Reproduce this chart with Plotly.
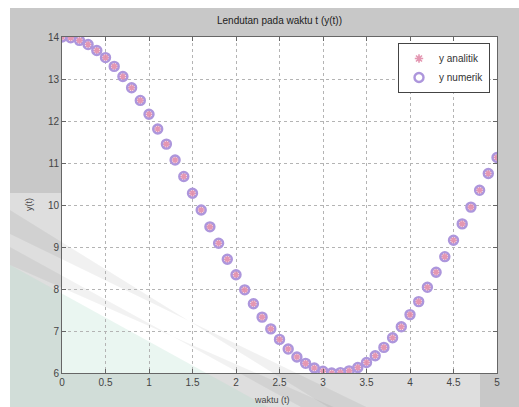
import plotly.graph_objects as go

# Time samples and deflection values y(t)
t = [0.0, 0.1, 0.2, 0.3, 0.4, 0.5, 0.6, 0.7, 0.8, 0.9,
     1.0, 1.1, 1.2, 1.3, 1.4, 1.5, 1.6, 1.7, 1.8, 1.9,
     2.0, 2.1, 2.2, 2.3, 2.4, 2.5, 2.6, 2.7, 2.8, 2.9,
     3.0, 3.1, 3.2, 3.3, 3.4, 3.5, 3.6, 3.7, 3.8, 3.9,
     4.0, 4.1, 4.2, 4.3, 4.4, 4.5, 4.6, 4.7, 4.8, 4.9, 5.0]

y_analitik = [14.00, 13.98, 13.92, 13.82, 13.68, 13.51, 13.30, 13.06, 12.79, 12.49,
              12.16, 11.81, 11.45, 11.07, 10.68, 10.28, 9.88, 9.48, 9.09, 8.71,
              8.34, 7.98, 7.65, 7.33, 7.05, 6.80, 6.57, 6.38, 6.23, 6.12,
              6.04, 6.00, 6.01, 6.05, 6.13, 6.25, 6.41, 6.61, 6.84, 7.10,
              7.39, 7.70, 8.04, 8.40, 8.77, 9.16, 9.55, 9.95, 10.35, 10.75, 11.13]

y_numerik = [14.00, 13.98, 13.92, 13.82, 13.68, 13.51, 13.30, 13.06, 12.79, 12.49,
             12.16, 11.81, 11.45, 11.07, 10.68, 10.28, 9.88, 9.48, 9.09, 8.71,
             8.34, 7.98, 7.65, 7.33, 7.05, 6.80, 6.57, 6.38, 6.23, 6.12,
             6.04, 6.00, 6.01, 6.05, 6.13, 6.25, 6.41, 6.61, 6.84, 7.10,
             7.39, 7.70, 8.04, 8.40, 8.77, 9.16, 9.55, 9.95, 10.35, 10.75, 11.13]

x_ticks = [0, 0.5, 1, 1.5, 2, 2.5, 3, 3.5, 4, 4.5, 5]
x_ticklabels = ["0", "0.5", "1", "1.5", "2", "2.5", "3", "3.5", "4", "4.5", "5"]
y_ticks = [6, 7, 8, 9, 10, 11, 12, 13, 14]

W, H = 519, 407
ML, MR, MT, MB = 62, 22, 37, 34
PW, PH = W - ML - MR, H - MT - MB


def px(xp):
    return (xp - ML) / PW


def py(yp):
    return (H - MB - yp) / PH


def poly(points):
    d = "M " + " L ".join(f"{px(a):.5f},{py(b):.5f}" for a, b in points) + " Z"
    return d


def band(y0, slope, width, x0=10):
    # parallelogram running down-right until it leaves the bottom edge
    x1 = x0 + (H - y0) / slope
    return [(x0, y0), (x1, H), (x1 + width / slope, H), (x0, y0 + width)]


fig = go.Figure()

fig.add_trace(go.Scatter(
    x=t, y=y_analitik, mode="markers", name="y analitik",
    marker=dict(symbol="asterisk-open", size=7, color="rgba(225,140,170,0.9)",
                line=dict(width=1.6, color="rgba(225,140,170,0.9)")),
))
fig.add_trace(go.Scatter(
    x=t, y=y_numerik, mode="markers", name="y numerik",
    marker=dict(symbol="circle-open", size=9, color="#ad96dc",
                line=dict(width=2.4, color="#ad96dc")),
))

shapes = []
# figure window background
shapes.append(dict(type="rect", xref="paper", yref="paper", layer="below",
                   x0=px(10), x1=px(519), y0=py(8), y1=py(407),
                   fillcolor="#c8c8c8", line_width=0))
# axes area
shapes.append(dict(type="rect", xref="paper", yref="paper", layer="below",
                   x0=0, x1=1, y0=0, y1=1, fillcolor="white", line_width=0))
# faint overlay in the lower left
shapes.append(dict(type="rect", xref="paper", yref="paper", layer="below",
                   x0=px(10), x1=px(480), y0=py(193), y1=py(407),
                   fillcolor="rgba(255,255,255,0.4)", line_width=0))
# diagonal bands
shapes.append(dict(type="path", xref="paper", yref="paper", layer="below",
                   path=poly(band(210, 0.62, 24)),
                   fillcolor="rgba(0,0,0,0.055)", line_width=0))
shapes.append(dict(type="path", xref="paper", yref="paper", layer="below",
                   path=poly(band(247, 0.55, 18)),
                   fillcolor="rgba(0,0,0,0.05)", line_width=0))
# mint corner
shapes.append(dict(type="path", xref="paper", yref="paper", layer="below",
                   path=poly([(10, 265), (268, 407), (10, 407)]),
                   fillcolor="rgba(170,220,200,0.25)", line_width=0))

axis_common = dict(
    showline=True, linecolor="#666666", linewidth=1, mirror="ticks",
    ticks="inside", ticklen=4, tickcolor="#666666", automargin=False,
    showgrid=True, gridcolor="#b4b4b4", griddash="dot", gridwidth=1,
    zeroline=False, tickfont=dict(size=10, color="#444444"),
)

annotations = [
    dict(text="waktu (t)", xref="paper", yref="paper", x=px(272), y=py(400),
         xanchor="center", yanchor="middle", showarrow=False,
         font=dict(size=9, color="#444444")),
    dict(text="y(t)", xref="paper", yref="paper", x=px(29), y=py(205),
         xanchor="center", yanchor="middle", showarrow=False, textangle=-90,
         font=dict(size=9, color="#444444")),
]

fig.update_layout(
    width=W, height=H,
    margin=dict(l=ML, r=MR, t=MT, b=MB, pad=0),
    paper_bgcolor="white", plot_bgcolor="rgba(0,0,0,0)",
    font=dict(family="Liberation Sans, Arial, sans-serif", size=10, color="#333333"),
    title=dict(text="Lendutan pada waktu t (y(t))", x=(ML + PW / 2) / W, xref="container",
               y=1 - 20 / H, yref="container", yanchor="middle", xanchor="center",
               font=dict(size=10, color="#222222")),
    xaxis=dict(range=[0, 5], tickvals=x_ticks, ticktext=x_ticklabels, **axis_common),
    yaxis=dict(range=[6, 14], tickvals=y_ticks, **axis_common),
    legend=dict(x=px(490), xanchor="right", y=py(43), yanchor="top",
                bgcolor="white", bordercolor="#444444", borderwidth=1,
                font=dict(size=10, color="#333333"), itemwidth=30,
                tracegroupgap=0),
    shapes=shapes,
    annotations=annotations,
    showlegend=True,
)

fig.write_html("out.html")
